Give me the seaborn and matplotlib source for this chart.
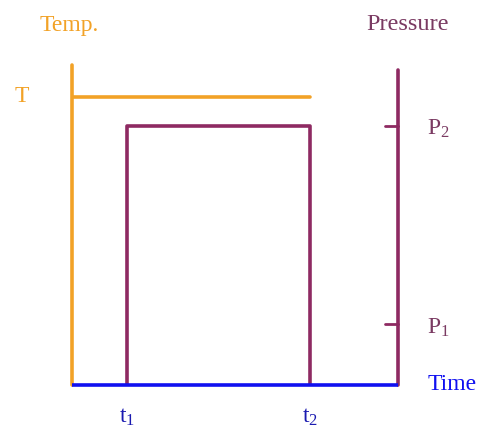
import matplotlib
matplotlib.use("Agg")
import matplotlib.pyplot as plt
import pandas as pd
import seaborn as sns

sns.set_theme(style="white")
plt.rcParams["font.family"] = ["Liberation Serif", "DejaVu Serif"]
plt.rcParams["mathtext.fontset"] = "custom"
plt.rcParams["mathtext.rm"] = "Liberation Serif"
plt.rcParams["mathtext.it"] = "Liberation Serif"

# time axis runs 0..10, levels are a fraction of the axis height
t_marks = [1.7, 7.3]          # t1, t2
t_labels = ["t$_\\mathrm{1}$", "t$_\\mathrm{2}$"]
temp_level = 0.9              # T
p_levels = [0.19, 0.81]       # P1, P2
p_labels = ["P$_\\mathrm{1}$", "P$_\\mathrm{2}$"]
time_end = 10
temp_axis_top = 1.0
p_axis_top = 0.985

orange = "#F2A227"
purple = "#8E2A62"
purple_txt = "#7A3A62"
blue = "#1010F0"

temp_df = pd.DataFrame({"time": [0, t_marks[1]], "level": [temp_level, temp_level]})
p_df = pd.DataFrame({
    "time": [t_marks[0], t_marks[0], t_marks[1], t_marks[1]],
    "level": [0, p_levels[1], p_levels[1], 0],
})

fig = plt.figure(figsize=(4.85, 4.32), dpi=100)
ax = fig.add_axes([72 / 485, 47 / 432, 326 / 485, 320 / 432])

# profiles
sns.lineplot(data=temp_df, x="time", y="level", sort=False, estimator=None,
             color=orange, lw=2.6, ax=ax)
sns.lineplot(data=p_df, x="time", y="level", sort=False, estimator=None,
             color=purple, lw=2.6, ax=ax)

# axes drawn by hand
ax.plot([0, 0], [0, temp_axis_top], color=orange, lw=2.6, clip_on=False)
ax.plot([time_end, time_end], [0, p_axis_top], color=purple, lw=2.6, clip_on=False)
ax.plot([0, time_end], [0, 0], color=blue, lw=2.6, clip_on=False, solid_capstyle="butt")
for p in p_levels:
    ax.plot([time_end - 0.4, time_end], [p, p], color=purple, lw=2, clip_on=False)

ax.set_xlim(0, time_end)
ax.set_ylim(0, 1)
ax.axis("off")

fs = 17
ax.text(-1.0, 1.125, "Temp.", color=orange, fontsize=fs, ha="left", va="center")
ax.text(-1.55, temp_level, "T", color=orange, fontsize=fs, ha="center", va="center")
ax.text(10.3, 1.125, "Pressure", color=purple_txt, fontsize=17.5, ha="center", va="center")
for p, lab in zip(p_levels, p_labels):
    ax.text(10.9, p - 0.01, lab, color=purple_txt, fontsize=fs, ha="left", va="center")
ax.text(10.9, 0, "Time", color=blue, fontsize=fs, ha="left", va="center")
for t, lab in zip(t_marks, t_labels):
    ax.text(t, -0.1, lab, color="#1A1AB0", fontsize=fs, ha="center", va="center")

fig.savefig("out.png", dpi=100)
